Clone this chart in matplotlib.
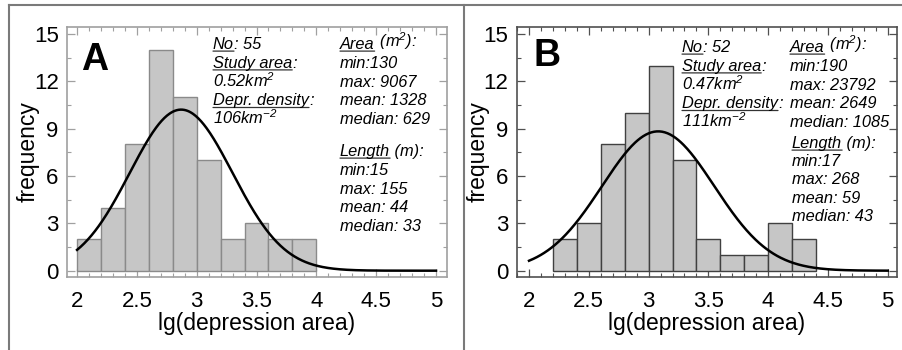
import numpy as np
import matplotlib
matplotlib.use("Agg")
import matplotlib.pyplot as plt
from matplotlib.ticker import MultipleLocator
from matplotlib.lines import Line2D

plt.rcParams['font.family'] = ['Liberation Sans', 'DejaVu Sans']
plt.rcParams['mathtext.fontset'] = 'custom'
plt.rcParams['mathtext.rm'] = 'Liberation Sans:italic'
plt.rcParams['mathtext.it'] = 'Liberation Sans:italic'
plt.rcParams['mathtext.default'] = 'regular'

# ---------------- data ----------------
bin_width = 0.2
edges_a = [2.0, 2.2, 2.4, 2.6, 2.8, 3.0, 3.2, 3.4, 3.6, 3.8]
counts_a = [2, 4, 8, 14, 11, 7, 2, 3, 2, 2]
edges_b = [2.2, 2.4, 2.6, 2.8, 3.0, 3.2, 3.4, 3.6, 3.8, 4.0, 4.2]
counts_b = [2, 3, 8, 10, 13, 7, 2, 1, 1, 3, 2]
n_a, n_b = 55, 52
mu_a, sigma_a = 2.87, 0.43
mu_b, sigma_b = 3.08, 0.47
xticks = [2, 2.5, 3, 3.5, 4, 4.5, 5]
xticklabels = ["2", "2.5", "3", "3.5", "4", "4.5", "5"]
yticks = [0, 3, 6, 9, 12, 15]

left_lines_a = [("No", ": 55"), ("Study area", ":"), (None, "0.52km$^2$"),
                ("Depr. density", ":"), (None, "106km$^{-2}$")]
right_lines_a = [("Area", " (m$^2$):"), (None, "min:130"), (None, "max: 9067"),
                 (None, "mean: 1328"), (None, "median: 629")]
len_lines_a = [("Length", " (m):"), (None, "min:15"), (None, "max: 155"),
               (None, "mean: 44"), (None, "median: 33")]
left_lines_b = [("No", ": 52"), ("Study area", ":"), (None, "0.47km$^2$"),
                ("Depr. density", ":"), (None, "111km$^{-2}$")]
right_lines_b = [("Area", " (m$^2$):"), (None, "min:190"), (None, "max: 23792"),
                 (None, "mean: 2649"), (None, "median: 1085")]
len_lines_b = [("Length", " (m):"), (None, "min:17"), (None, "max: 268"),
               (None, "mean: 59"), (None, "median: 43")]

W, H = 903, 350
fig = plt.figure(figsize=(W / 100, H / 100), dpi=100)


def fx(px):
    return px / W


def fy(py):
    return 1 - py / H


# outer frame lines
frame_col = '#7a7a7a'
fig.add_artist(Line2D([fx(9), fx(903)], [fy(5), fy(5)], color=frame_col, lw=1.5))
fig.add_artist(Line2D([fx(9), fx(9)], [fy(5), fy(350)], color=frame_col, lw=1.5))
fig.add_artist(Line2D([fx(464), fx(464)], [fy(5), fy(350)], color=frame_col, lw=1.5))

TXT = 11.8


def text_block(lines, x, y0, dy):
    for i, (ul, rest) in enumerate(lines):
        y = y0 + i * dy
        if ul is None:
            fig.text(fx(x), fy(y), rest, fontsize=TXT, style='italic',
                     ha='left', va='baseline')
        else:
            t1 = fig.text(fx(x), fy(y), ul, fontsize=TXT, style='italic',
                          ha='left', va='baseline')
            plt.annotate(rest, xy=(1, 0), xycoords=t1, fontsize=TXT,
                         style='italic', ha='left', va='bottom',
                         annotation_clip=False)
            plt.annotate('', xy=(0, 0.06), xycoords=t1, xytext=(1, 0.06),
                         textcoords=t1,
                         arrowprops=dict(arrowstyle='-', lw=0.9, color='#333333',
                                         shrinkA=0, shrinkB=0),
                         annotation_clip=False)


def panel(ax, edges, counts, n, mu, sigma, xlim, spine_col, edge_col, letter,
          letter_xy, ylab_x):
    ax.bar(edges, counts, width=bin_width, align='edge', color='#c6c6c6',
           edgecolor=edge_col, linewidth=1.0, zorder=2)
    xs = np.linspace(2, 5, 400)
    ys = n * bin_width / (sigma * np.sqrt(2 * np.pi)) * np.exp(-(xs - mu) ** 2 / (2 * sigma ** 2))
    ax.plot(xs, ys, color='black', lw=1.8, zorder=3)
    ax.set_xlim(*xlim)
    ax.set_ylim(-0.40, 15.44)
    ax.set_xticks(xticks)
    ax.set_xticklabels(xticklabels)
    ax.set_yticks(yticks)
    ax.xaxis.set_minor_locator(MultipleLocator(0.1))
    ax.yaxis.set_minor_locator(MultipleLocator(1.5))
    ax.tick_params(which='both', direction='in', top=True, right=True,
                   color=spine_col, labelsize=16)
    ax.tick_params(which='major', length=6, width=0.9)
    ax.tick_params(which='minor', length=3, width=0.8)
    ax.tick_params(axis='x', pad=10)
    ax.tick_params(axis='y', pad=6)
    for s in ax.spines.values():
        s.set_color(spine_col)
        s.set_linewidth(1.2)
    ax.set_xlabel('lg(depression area)', fontsize=16.5, labelpad=0)
    ax.set_ylabel('frequency', fontsize=16.5, va='center')
    ax.yaxis.set_label_coords(ylab_x, 0.5)
    fig.text(fx(letter_xy[0]), fy(letter_xy[1]), letter, fontsize=27,
             fontweight='bold', ha='left', va='center')


ax_a = fig.add_axes([fx(67), fy(277), 380 / W, 250 / H])
panel(ax_a, edges_a, counts_a, n_a, mu_a, sigma_a, (1.916, 5.092),
      '#a0a0a0', '#8a8a8a', 'A', (81, 60), -0.103)
ax_b = fig.add_axes([fx(516.7), fy(277), 380 / W, 250 / H])
panel(ax_b, edges_b, counts_b, n_b, mu_b, sigma_b, (1.897, 5.075),
      '#505050', '#404040', 'B', (534, 56), -0.101)

dy = 18.8
text_block(left_lines_a, 213, 49, dy)
text_block(right_lines_a, 340, 49, dy)
text_block(len_lines_a, 340, 156, dy)
text_block(left_lines_b, 682, 52, dy)
text_block(right_lines_b, 790, 52, dy)
text_block(len_lines_b, 792, 148, dy * 0.97)

fig.savefig('out.png', dpi=100)
